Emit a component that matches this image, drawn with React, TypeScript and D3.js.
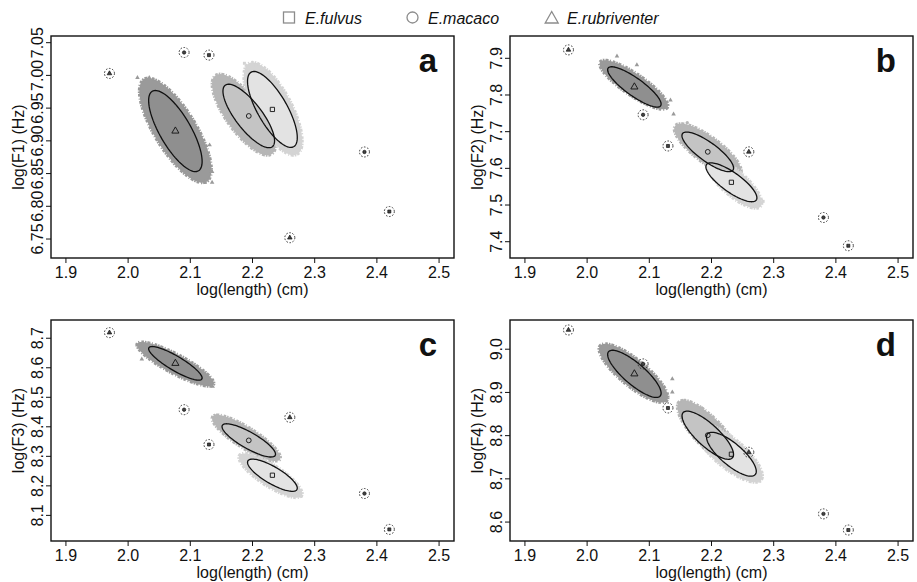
import React from 'react';
import * as d3 from 'd3';

// species order: fulvus, macaco, rubriventer
const speciesNames = ['E.fulvus', 'E.macaco', 'E.rubriventer'];
const speciesShapes = [d3.symbolSquare, d3.symbolCircle, d3.symbolTriangle];
const cloudColors = ['#d4d4d4', '#b6b6b6', '#9a9a9a'];
const ellipseFills = ['#e3e3e3', '#c4c4c4', '#8f8f8f'];

const panelLetters = ['a', 'b', 'c', 'd'];
const formantLabels = ['log(F1) (Hz)', 'log(F2) (Hz)', 'log(F3) (Hz)', 'log(F4) (Hz)'];

const xTicks = [1.9, 2.0, 2.1, 2.2, 2.3, 2.4, 2.5];
const xLim = [1.876, 2.524];

const yTicksF1 = [6.75, 6.8, 6.85, 6.9, 6.95, 7.0, 7.05];
const yTicksF2 = [7.4, 7.5, 7.6, 7.7, 7.8, 7.9];
const yTicksF3 = [8.1, 8.2, 8.3, 8.4, 8.5, 8.6, 8.7];
const yTicksF4 = [8.6, 8.7, 8.8, 8.9, 9.0];
const yLimF1 = [6.721, 7.0602];
const yLimF2 = [7.3556, 7.9608];
const yLimF3 = [8.0132, 8.7618];
const yLimF4 = [8.5562, 9.0676];

// individual specimens (circled)
const specimenLength = [1.97, 2.09, 2.13, 2.26, 2.38, 2.42];
const specimenSpecies = [2, 1, 0, 2, 1, 0];
const specimenF1 = [7.003, 7.035, 7.031, 6.752, 6.883, 6.792];
const specimenF2 = [7.923, 7.746, 7.661, 7.645, 7.466, 7.389];
const specimenF3 = [8.719, 8.458, 8.340, 8.432, 8.174, 8.0525];
const specimenF4 = [9.0445, 8.966, 8.864, 8.7615, 8.619, 8.5816];

// species means
const meanLength = [2.232, 2.194, 2.076];
const meanF1 = [6.948, 6.938, 6.915];
const meanF2 = [7.562, 7.645, 7.822];
const meanF3 = [8.236, 8.354, 8.615];
const meanF4 = [8.757, 8.801, 8.943];

// confidence ellipses: half-range in length, half-range in formant, correlation
const ellHalfLength = [
  [0.040, 0.0415, 0.043],
  [0.041, 0.0415, 0.043],
  [0.040, 0.043, 0.043],
  [0.040, 0.0414, 0.043],
];
const ellHalfF = [
  [0.058, 0.0485, 0.062],
  [0.053, 0.054, 0.055],
  [0.0545, 0.0563, 0.057],
  [0.0508, 0.0557, 0.0546],
];
const ellCorr = [
  [-0.74, -0.78, -0.75],
  [-0.8, -0.82, -0.85],
  [-0.8, -0.83, -0.87],
  [-0.78, -0.8, -0.82],
];

// resampled clouds: [centre length, centre formant, half-range length, half-range formant, corr]
const cloudF1 = [
  [2.233, 6.949, 0.047, 0.071, -0.7],
  [2.186, 6.940, 0.051, 0.062, -0.75],
  [2.076, 6.916, 0.058, 0.080, -0.75],
];
const cloudF2 = [
  [2.236, 7.56, 0.045, 0.069, -0.78],
  [2.194, 7.65, 0.054, 0.072, -0.8],
  [2.075, 7.828, 0.055, 0.067, -0.85],
];
const cloudF3 = [
  [2.229, 8.235, 0.051, 0.075, -0.82],
  [2.190, 8.362, 0.055, 0.078, -0.85],
  [2.076, 8.6125, 0.062, 0.075, -0.87],
];
const cloudF4 = [
  [2.228, 8.76, 0.054, 0.068, -0.78],
  [2.196, 8.806, 0.051, 0.076, -0.8],
  [2.0746, 8.9446, 0.0555, 0.068, -0.82],
];

// stray resampled points outside the dense clouds: [length, formant, species]
const strayF1 = [
  [2.015, 6.9965, 2], [2.034, 6.9965, 2], [2.131, 6.8936, 2], [2.135, 6.853, 2],
  [2.123, 6.8366, 2], [2.135, 6.8366, 2], [2.187, 7.0185, 0], [2.206, 7.016, 0],
];
const strayF2 = [
  [2.139, 7.748, 2], [2.134, 7.786, 2], [2.048, 7.906, 2], [2.080, 7.882, 2],
  [2.161, 7.7245, 1], [2.283, 7.51, 0],
];
const strayF3 = [
  [2.022, 8.629, 2], [2.136, 8.5365, 2], [2.1415, 8.4375, 1], [2.278, 8.165, 0],
];
const strayF4 = [
  [2.137, 8.9315, 2], [2.137, 8.9008, 2], [2.022, 8.998, 2],
  [2.153, 8.8814, 1], [2.184, 8.864, 1], [2.2775, 8.6946, 0],
];

const FONT = 'Liberation Sans, Arial, Helvetica, sans-serif';

const panels = [
  { box: [51, 36, 454, 258], yLim: yLimF1, yTicks: yTicksF1, fmt: d3.format('.2f'), specimenF: specimenF1, meanF: meanF1, cloud: cloudF1, stray: strayF1 },
  { box: [510, 36, 913, 258], yLim: yLimF2, yTicks: yTicksF2, fmt: d3.format('.1f'), specimenF: specimenF2, meanF: meanF2, cloud: cloudF2, stray: strayF2 },
  { box: [51, 320, 454, 541], yLim: yLimF3, yTicks: yTicksF3, fmt: d3.format('.1f'), specimenF: specimenF3, meanF: meanF3, cloud: cloudF3, stray: strayF3 },
  { box: [510, 320, 913, 541], yLim: yLimF4, yTicks: yTicksF4, fmt: d3.format('.1f'), specimenF: specimenF4, meanF: meanF4, cloud: cloudF4, stray: strayF4 },
];

function ellipsePath(cx, cy, hx, hy, r, x, y) {
  const s = Math.sqrt(1 - r * r);
  const pts = d3.range(96).map(i => {
    const t = (i / 96) * Math.PI * 2;
    return [x(cx + hx * Math.cos(t)), y(cy + hy * (r * Math.cos(t) + s * Math.sin(t)))];
  });
  return d3.line().curve(d3.curveLinearClosed)(pts);
}

function Panel({ idx }) {
  const p = panels[idx];
  const [x0, y0, x1, y1] = p.box;
  const x = d3.scaleLinear().domain(xLim).range([x0, x1]);
  const y = d3.scaleLinear().domain(p.yLim).range([y1, y0]);
  const sym = (k, size) => d3.symbol().type(speciesShapes[k]).size(size)();
  const order = [0, 1, 2];

  return (
    <g>
      {/* clouds */}
      {[1, 0, 2].map(k => {
        const c = p.cloud[k];
        const d = ellipsePath(c[0], c[1], c[2], c[3], c[4], x, y);
        return (
          <g key={'c' + k}>
            <path d={d} fill={cloudColors[k]} />
            <path d={d} fill="none" stroke={cloudColors[k]} strokeWidth={3}
              strokeDasharray="1.5 1 2.5 2 1 1.5 3 1" />
          </g>
        );
      })}
      {p.stray.map((s, i) => (
        <path key={'s' + i} transform={`translate(${x(s[0])},${y(s[1])})`} d={sym(s[2], 9)} fill={cloudColors[s[2]]} />
      ))}
      {/* ellipse fills then outlines */}
      {order.map(k => (
        <path key={'ef' + k}
          d={ellipsePath(meanLength[k], p.meanF[k], ellHalfLength[idx][k], ellHalfF[idx][k], ellCorr[idx][k], x, y)}
          fill={ellipseFills[k]} />
      ))}
      {order.map(k => (
        <path key={'es' + k}
          d={ellipsePath(meanLength[k], p.meanF[k], ellHalfLength[idx][k], ellHalfF[idx][k], ellCorr[idx][k], x, y)}
          fill="none" stroke="#111" strokeWidth={1.3} />
      ))}
      {/* means */}
      {order.map(k => (
        <path key={'m' + k} transform={`translate(${x(meanLength[k])},${y(p.meanF[k])})`}
          d={sym(k, k === 2 ? 22 : 18)} fill="none" stroke="#111" strokeWidth={0.9} />
      ))}
      {/* specimens */}
      {specimenLength.map((l, i) => (
        <g key={'sp' + i} transform={`translate(${x(l)},${y(p.specimenF[i])})`}>
          <circle r={5} fill="none" stroke="#222" strokeWidth={0.9} strokeDasharray="1.6 1.6" />
          <path d={sym(specimenSpecies[i], 9)} fill="#444" stroke="#111" strokeWidth={0.7} />
        </g>
      ))}
      {/* box */}
      <rect x={x0} y={y0} width={x1 - x0} height={y1 - y0} fill="none" stroke="#111" strokeWidth={1.4} />
      {/* x axis */}
      {xTicks.map(t => (
        <g key={'xt' + t}>
          <line x1={x(t)} x2={x(t)} y1={y1} y2={y1 + 5} stroke="#111" strokeWidth={1} />
          <text x={x(t)} y={y1 + 19.5} textAnchor="middle" fontSize={16} fontFamily={FONT} fill="#111">{d3.format('.1f')(t)}</text>
        </g>
      ))}
      <text x={(x0 + x1) / 2} y={y1 + 36.5} textAnchor="middle" fontSize={16} fontFamily={FONT} fill="#111">log(length) (cm)</text>
      {/* y axis */}
      {p.yTicks.map(t => (
        <g key={'yt' + t}>
          <line x1={x0} x2={x0 - 5} y1={y(t)} y2={y(t)} stroke="#111" strokeWidth={1} />
          <text transform={`translate(${x0 - 8},${y(t)}) rotate(-90)`} textAnchor="middle" fontSize={16} fontFamily={FONT} fill="#111">{p.fmt(t)}</text>
        </g>
      ))}
      <text transform={`translate(${x0 - 27},${(y0 + y1) / 2}) rotate(-90)`} textAnchor="middle" fontSize={16} fontFamily={FONT} fill="#111">{formantLabels[idx]}</text>
      <text x={x1 - 17} y={y0 + 36} textAnchor="end" fontSize={33} fontWeight="bold" fontFamily={FONT} fill="#111">{panelLetters[idx]}</text>
    </g>
  );
}

function Legend() {
  const items = [
    { sx: 289, tx: 305 },
    { sx: 412.5, tx: 428 },
    { sx: 551.7, tx: 567 },
  ];
  const cy = 17.5;
  return (
    <g>
      {items.map((it, k) => (
        <g key={k}>
          {k === 0 && <rect x={it.sx - 5.5} y={cy - 5.5} width={11} height={11} fill="none" stroke="#8c8c8c" strokeWidth={1.3} />}
          {k === 1 && <circle cx={it.sx} cy={cy} r={5.5} fill="none" stroke="#8c8c8c" strokeWidth={1.3} />}
          {k === 2 && <path d={`M${it.sx},${cy - 6} L${it.sx + 6.5},${cy + 5.5} L${it.sx - 6.5},${cy + 5.5} Z`} fill="none" stroke="#8c8c8c" strokeWidth={1.3} />}
          <text x={it.tx} y={24} fontSize={16} fontStyle="italic" fontFamily={FONT} fill="#111">{speciesNames[k]}</text>
        </g>
      ))}
    </g>
  );
}

export default function App() {
  return (
    <div style={{ position: 'fixed', left: 0, top: 0, background: '#fff' }}>
      <svg width={917} height={582} style={{ display: 'block' }}>
        <rect width={917} height={582} fill="#fff" />
        <Legend />
        {panels.map((_, i) => <Panel key={i} idx={i} />)}
      </svg>
    </div>
  );
}
